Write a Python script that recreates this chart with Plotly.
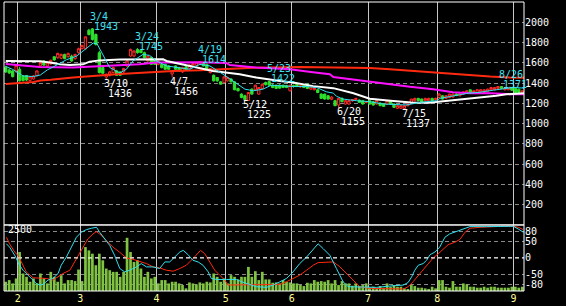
import plotly.graph_objects as go
from plotly.subplots import make_subplots

# ---------------- data (trading-day index 0..149, 2022-01-26 .. 2022-09-05) ----------------
opens = [1555, 1530, 1520, 1520, 1536, 1470, 1475, 1425, 1440, 1472,
         1570, 1618, 1570, 1590, 1660, 1650, 1645, 1683, 1660, 1667,
         1641, 1700, 1740, 1739, 1922, 1935, 1879, 1700, 1553, 1460,
         1477, 1504, 1520, 1510, 1510, 1569, 1667, 1667, 1732, 1725,
         1700, 1618, 1651, 1634, 1585, 1585, 1585, 1569, 1490, 1569,
         1553, 1510, 1560, 1546, 1559, 1575, 1585, 1602, 1585, 1504,
         1477, 1455, 1412, 1405, 1422, 1440, 1412, 1347, 1291, 1275,
         1228, 1340, 1334, 1291, 1347, 1405, 1415, 1379, 1379, 1379,
         1379, 1375, 1324, 1375, 1389, 1362, 1379, 1389, 1340, 1334,
         1334, 1291, 1291, 1275, 1240, 1226, 1183, 1249, 1193, 1193,
         1226, 1236, 1232, 1226, 1209, 1226, 1216, 1193, 1203, 1193,
         1193, 1226, 1193, 1151, 1151, 1150, 1177, 1209, 1226, 1249,
         1242, 1226, 1226, 1249, 1236, 1258, 1275, 1249, 1258, 1262,
         1291, 1275, 1291, 1301, 1334, 1307, 1307, 1314, 1307, 1314,
         1334, 1334, 1347, 1366, 1334, 1334, 1356, 1347, 1340, 1301]
highs = [1570, 1545, 1530, 1585, 1560, 1480, 1480, 1470, 1480, 1525,
         1610, 1625, 1605, 1630, 1665, 1700, 1690, 1690, 1700, 1680,
         1690, 1750, 1780, 1860, 1935, 1943, 1890, 1720, 1560, 1495,
         1520, 1560, 1530, 1515, 1550, 1625, 1740, 1725, 1745, 1735,
         1710, 1672, 1660, 1640, 1625, 1595, 1590, 1575, 1525, 1575,
         1560, 1560, 1570, 1585, 1600, 1610, 1614, 1608, 1590, 1550,
         1485, 1460, 1420, 1470, 1462, 1450, 1415, 1355, 1300, 1285,
         1312, 1348, 1385, 1360, 1395, 1415, 1422, 1390, 1385, 1388,
         1385, 1382, 1385, 1385, 1395, 1380, 1385, 1395, 1370, 1360,
         1340, 1300, 1295, 1280, 1270, 1235, 1255, 1258, 1232, 1232,
         1240, 1255, 1240, 1232, 1225, 1232, 1222, 1232, 1210, 1198,
         1232, 1232, 1198, 1180, 1180, 1182, 1200, 1245, 1255, 1255,
         1248, 1255, 1255, 1255, 1255, 1300, 1282, 1280, 1295, 1298,
         1300, 1305, 1318, 1330, 1340, 1330, 1338, 1340, 1340, 1345,
         1362, 1360, 1368, 1371, 1360, 1362, 1362, 1352, 1345, 1330]
lows = [1500, 1490, 1455, 1500, 1415, 1415, 1420, 1418, 1435, 1465,
        1565, 1570, 1560, 1580, 1620, 1640, 1635, 1635, 1650, 1610,
        1630, 1690, 1730, 1730, 1870, 1820, 1770, 1495, 1490, 1436,
        1465, 1495, 1470, 1470, 1500, 1560, 1660, 1655, 1690, 1695,
        1645, 1610, 1580, 1580, 1575, 1545, 1530, 1530, 1456, 1530,
        1515, 1500, 1525, 1540, 1550, 1565, 1575, 1565, 1530, 1495,
        1415, 1410, 1385, 1398, 1415, 1405, 1330, 1318, 1250, 1225,
        1228, 1285, 1325, 1285, 1340, 1375, 1375, 1350, 1340, 1345,
        1350, 1350, 1318, 1355, 1360, 1355, 1350, 1340, 1335, 1328,
        1300, 1245, 1238, 1238, 1232, 1172, 1155, 1210, 1188, 1188,
        1215, 1230, 1205, 1188, 1200, 1188, 1178, 1188, 1172, 1165,
        1188, 1188, 1158, 1145, 1145, 1137, 1170, 1205, 1220, 1220,
        1210, 1220, 1222, 1220, 1230, 1250, 1238, 1242, 1250, 1255,
        1270, 1268, 1285, 1295, 1300, 1300, 1300, 1310, 1300, 1310,
        1328, 1328, 1340, 1340, 1328, 1330, 1325, 1300, 1300, 1298]
closes = [1510, 1500, 1464, 1575, 1422, 1425, 1430, 1462, 1470, 1520,
          1602, 1578, 1600, 1625, 1628, 1693, 1683, 1641, 1693, 1618,
          1683, 1739, 1770, 1856, 1879, 1830, 1781, 1504, 1497, 1487,
          1510, 1553, 1477, 1477, 1543, 1618, 1732, 1716, 1700, 1700,
          1651, 1667, 1585, 1585, 1618, 1553, 1536, 1536, 1520, 1536,
          1520, 1553, 1530, 1579, 1592, 1605, 1610, 1569, 1536, 1543,
          1422, 1422, 1389, 1461, 1455, 1412, 1334, 1324, 1258, 1236,
          1307, 1291, 1379, 1356, 1389, 1385, 1379, 1356, 1347, 1350,
          1356, 1356, 1379, 1366, 1366, 1375, 1356, 1347, 1362, 1356,
          1307, 1249, 1242, 1242, 1262, 1177, 1249, 1216, 1226, 1226,
          1236, 1249, 1209, 1193, 1216, 1193, 1183, 1226, 1177, 1170,
          1226, 1193, 1160, 1177, 1177, 1177, 1195, 1242, 1249, 1226,
          1216, 1249, 1249, 1226, 1249, 1291, 1242, 1275, 1291, 1291,
          1278, 1301, 1314, 1324, 1307, 1324, 1334, 1334, 1334, 1340,
          1356, 1356, 1366, 1347, 1356, 1356, 1330, 1307, 1307, 1324]
volumes = [378, 446, 310, 513, 1593, 716, 580, 378, 513, 310,
           716, 513, 310, 783, 580, 378, 648, 310, 446, 446,
           405, 878, 405, 1796, 1661, 1526, 1053, 1526, 1256, 918,
           850, 783, 783, 580, 783, 2174, 1593, 1188, 1256, 918,
           580, 783, 513, 580, 310, 446, 446, 310, 378, 378,
           310, 243, 108, 351, 310, 270, 351, 310, 378, 351,
           716, 580, 378, 513, 310, 648, 580, 473, 580, 580,
           986, 580, 810, 446, 783, 473, 473, 338, 351, 310,
           446, 378, 351, 310, 310, 243, 203, 338, 310, 446,
           378, 405, 378, 446, 310, 446, 243, 405, 310, 310,
           216, 310, 203, 243, 310, 148, 175, 108, 202, 135,
           310, 175, 243, 175, 175, 108, 81, 243, 202, 135,
           135, 108, 81, 175, 108, 446, 446, 175, 135, 405,
           175, 175, 310, 270, 175, 175, 135, 135, 175, 135,
           175, 175, 135, 135, 135, 135, 175, 175, 135, 175]

# moving averages (trading-day index, price)
ma5_x = [0, 2, 5, 8, 10, 12, 14, 17.5, 20.4, 22.8, 25.2, 26.3, 28.1, 30, 32.9, 34.8, 36.7,
         39.6, 41.5, 43.5, 46.4, 49.3, 53.1, 56, 58.9, 62.7, 65.6, 69, 71.4, 74.2, 76.6, 79,
         82.9, 86.8, 89.7, 92.5, 94.5, 95.4, 97.3, 101.2, 105, 108.9, 112.7, 115.6, 119.4,
         124.3, 125.2, 128.1, 131, 133, 136.8, 140.7, 143.6, 146.5, 149.5]
ma5_y = [1565, 1535, 1470, 1465, 1480, 1530, 1565, 1630, 1665, 1730, 1795, 1790, 1667, 1553, 1500, 1536, 1618,
         1683, 1673, 1618, 1569, 1553, 1536, 1585, 1569, 1487, 1421, 1340, 1324, 1340, 1379, 1373,
         1366, 1366, 1356, 1314, 1301, 1270, 1242, 1226, 1216, 1193, 1184, 1184, 1209,
         1226, 1249, 1270, 1285, 1298, 1310, 1330, 1346, 1357, 1350]
ma25_x = [0, 5, 10, 12.7, 15.6, 18.5, 22.3, 24.2, 27.1, 32.9, 37.7, 45.4, 46.4, 50.2, 53.1, 56,
          59.8, 67.5, 72.3, 79.1, 82.9, 88.7, 94.5, 100.3, 103.5, 105, 111, 117, 122, 125,
          131, 136.7, 141.5, 144.4, 147.3, 149.5]
ma25_y = [1618, 1615, 1615, 1602, 1585, 1578, 1585, 1611, 1624, 1632, 1634, 1634, 1618, 1592, 1569, 1546,
          1520, 1487, 1454, 1421, 1405, 1370, 1350, 1300, 1262, 1245, 1226, 1209, 1205, 1216,
          1232, 1255, 1275, 1290, 1298, 1300]
ma75_x = [0, 4, 9.8, 19.4, 29, 38.6, 43.4, 56, 63.7, 64.6, 72.3, 82, 88, 93.5, 94.5, 100.2,
          105, 110.8, 116.6, 123.3, 129, 134, 140, 144.4, 149.5]
ma75_y = [1589, 1575, 1559, 1553, 1569, 1585, 1602, 1605, 1598, 1578, 1553, 1536, 1510, 1487, 1460, 1435,
          1410, 1388, 1363, 1340, 1310, 1300, 1300, 1291, 1290]
ma200_x = [0, 8, 10, 13, 19.4, 22, 29, 33, 38.7, 45, 48.3, 56, 62, 70, 85, 100, 105, 110.8,
           115, 119.5, 124.3, 130.5, 133.9, 139.7, 145.4, 149.5]
ma200_y = [1392, 1410, 1425, 1432, 1455, 1460, 1480, 1490, 1503, 1512, 1520, 1526, 1535, 1550, 1559, 1556,
           1550, 1536, 1526, 1510, 1497, 1487, 1475, 1464, 1455, 1452]

# RCI oscillators (lower panel)
rci_s_x = [0.2, 1.1, 2.6, 4, 5, 6.9, 8.8, 9.8, 10.8, 12.2, 13.6, 15.1, 16, 17.5, 18.9, 20.4, 21.8,
           23.3, 24.7, 26.2, 27.1, 28.5, 30, 31.4, 32.9, 34.3, 35.8, 37.7, 39.1, 40.6, 42.5, 44.4,
           45.9, 47.3, 48.7, 50.2, 51.2, 52.6, 54, 55.5, 56.9, 58.4, 59.3, 60.8, 63.7, 66.6, 68,
           69.4, 72.3, 75.2, 77.1, 79.1, 81, 82.9, 84.8, 86.8, 88.7, 90.1, 91.6, 93.5, 95.4, 97.3,
           98.8, 101.2, 105, 107, 110.8, 114.7, 116.1, 117.1, 118, 119, 120.4, 121.4, 122.4, 123.8,
           125.2, 126.7, 128.1, 130, 132, 133.9, 138.7, 142.6, 146.4, 147.8, 149.3]
rci_s_y = [43, 33, 8, -22, -37, -57, -77, -82, -80, -67, -62, -47, -22, 3, 33, 63, 78,
           86, 90, 93, 78, 58, 38, 8, -32, -42, -37, -27, -17, -27, -27, -32,
           -12, -12, 3, 18, 23, 10, -7, -12, -22, -42, -62, -65, -65, -65, -72,
           -77, -87, -89, -82, -72, -62, -42, -17, 3, 28, 43, 28, 8, -32, -72,
           -87, -87, -87, -89, -85, -82, -74, -57, -37, -22, -17, -7, 10, 18,
           33, 63, 73, 80, 88, 95, 95, 95, 96, 88, 78]
rci_l_x = [0.2, 1.1, 2.6, 3.5, 4.5, 5.9, 7.9, 9.8, 11.7, 13.6, 15.1, 16.5, 18.5, 20.4, 22.3, 23.7,
           25.2, 26.1, 27.1, 29, 30.9, 32.8, 34.8, 36.7, 38.6, 40.6, 42.5, 44.4, 46.3, 48.3, 50.2,
           52.1, 54, 56.2, 57.4, 58.9, 60.3, 61.7, 63.2, 64.1, 67.5, 72.3, 77.1, 79.1, 81, 82.9,
           84.8, 86.8, 88.7, 90.1, 92.5, 94.5, 96.4, 98.3, 100.2, 102.1, 105, 109.9, 114.7, 116.1,
           117.5, 119.5, 121.4, 123.3, 124.8, 126.2, 127.6, 129.6, 131, 132.5, 133.9, 136.8, 139.7,
           143.5, 146.4, 147.8, 149.3]
rci_l_y = [63, 43, 18, 8, -12, -42, -60, -62, -62, -67, -57, -47, -37, -2, 33, 58,
           73, 80, 73, 53, 33, 18, 0, -4, -10, -17, -27, -30, -37, -40, -32,
           -22, -2, 23, 13, -12, -37, -52, -67, -82, -82, -82, -82, -80, -72, -62,
           -52, -37, -22, -14, -12, -12, -27, -47, -67, -87, -92, -92, -94, -87,
           -72, -47, -22, 0, 13, 28, 40, 48, 56, 78, 90, 93, 95,
           96, 96, 93, 86]

# annotated highs / lows
mark_dates = ['3/4', '3/10', '3/24', '4/7', '4/19', '5/12', '5/23', '6/20', '7/15', '8/26']
mark_idx = [25, 29, 38, 48, 56, 69, 76, 96, 115, 143]
mark_vals = [1943, 1436, 1745, 1456, 1614, 1225, 1422, 1155, 1137, 1371]
mark_kind = ['H', 'L', 'H', 'L', 'H', 'L', 'H', 'L', 'L', 'H']

month_first_idx = [4, 22, 44, 64, 83, 105, 125, 147]
month_labels = ['2', '3', '4', '5', '6', '7', '8', '9']
price_ticks = [200, 400, 600, 800, 1000, 1200, 1400, 1600, 1800, 2000, 2200]
rci_ticks = [80, 50, 0, -50, -80]
volume_scale_label = 2500

# ---------------- figure ----------------
FONT = 'DejaVu Sans Mono'
lower_frac = 0.2285
fig = make_subplots(rows=2, cols=1, shared_xaxes=True, vertical_spacing=0,
                    row_heights=[1 - lower_frac, lower_frac],
                    specs=[[{}], [{"secondary_y": True}]])

days = list(range(len(opens)))
fig.add_trace(go.Candlestick(
    x=days, open=opens, high=highs, low=lows, close=closes,
    increasing=dict(line=dict(color='#ff2a2a', width=1), fillcolor='#000000'),
    decreasing=dict(line=dict(color='#2ee02e', width=1), fillcolor='#2ee02e'),
    whiskerwidth=0, showlegend=False, hoverinfo='skip'), row=1, col=1)

for xs, ys, col, w in [(ma200_x, ma200_y, '#ff2a10', 2),
                       (ma75_x, ma75_y, '#ff10ff', 2),
                       (ma25_x, ma25_y, '#ffffff', 2),
                       (ma5_x, ma5_y, '#30e0f0', 1)]:
    fig.add_trace(go.Scatter(x=xs, y=ys, mode='lines', line=dict(color=col, width=w),
                             showlegend=False, hoverinfo='skip'), row=1, col=1)

fig.add_trace(go.Bar(x=days, y=volumes, marker=dict(color='#80c342', line=dict(width=0)),
                     showlegend=False, hoverinfo='skip'), row=2, col=1, secondary_y=False)
fig.add_trace(go.Scatter(x=rci_l_x, y=rci_l_y, mode='lines', line=dict(color='#ff2a10', width=1),
                         showlegend=False, hoverinfo='skip'), row=2, col=1, secondary_y=True)
fig.add_trace(go.Scatter(x=rci_s_x, y=rci_s_y, mode='lines', line=dict(color='#30e0f0', width=1),
                         showlegend=False, hoverinfo='skip'), row=2, col=1, secondary_y=True)

month_pos = [i - 0.5 for i in month_first_idx]
xcommon = dict(domain=[0, 1], range=[-0.5, len(opens) - 0.5], tickvals=month_pos,
               ticktext=month_labels,
               showgrid=True, gridcolor='#c8c8c8', gridwidth=1, zeroline=False,
               showline=False, ticks='', rangeslider=dict(visible=False), fixedrange=True)
fig.update_xaxes(**xcommon)
fig.update_xaxes(showticklabels=False, row=1, col=1)
fig.update_xaxes(showticklabels=True, tickfont=dict(family=FONT, size=10, color='#ffff99'),
                 row=2, col=1)

fig.update_yaxes(range=[0, 2200], side='right', tickvals=price_ticks,
                 ticktext=[str(v) for v in price_ticks],
                 tickfont=dict(family=FONT, size=10, color='#ffffff'),
                 showgrid=True, gridcolor='#8a8a8a', griddash='4px,3px', gridwidth=1,
                 zeroline=False, ticks='', row=1, col=1)
fig.update_yaxes(range=[0, 2700], visible=False, showgrid=False, zeroline=False,
                 row=2, col=1, secondary_y=False)
fig.update_yaxes(range=[-100, 100], side='right', tickvals=rci_ticks,
                 ticktext=[str(v) for v in rci_ticks],
                 tickfont=dict(family=FONT, size=10, color='#ffffff'),
                 showgrid=True, gridcolor='#8a8a8a', griddash='4px,3px', gridwidth=1,
                 zeroline=False, ticks='', row=2, col=1, secondary_y=True)

# zero line of oscillator (white dashed) and panel frames
fig.add_shape(type='line', xref='x2 domain', yref='y3', x0=0, x1=1, y0=0, y1=0,
              line=dict(color='#ffffff', width=1, dash='4px,3px'))
fig.add_shape(type='rect', xref='x domain', yref='y domain', x0=0, x1=1, y0=0, y1=1,
              line=dict(color='#ffffff', width=1))
fig.add_shape(type='rect', xref='x2 domain', yref='y2 domain', x0=0, x1=1, y0=0, y1=1,
              line=dict(color='#ffffff', width=1))

# high / low labels
for d, i, v, k in zip(mark_dates, mark_idx, mark_vals, mark_kind):
    col = '#40e0f0' if k == 'H' else '#ffffff'
    dy_date, dy_val = (12, 2) if k == 'H' else (-4, -14)
    fig.add_annotation(x=i, y=v, xref='x', yref='y', text=d, showarrow=False,
                       xanchor='left', yanchor='middle', xshift=-3, yshift=dy_date,
                       borderpad=0, font=dict(family=FONT, size=10, color=col))
    fig.add_annotation(x=i, y=v, xref='x', yref='y', text=str(v), showarrow=False,
                       xanchor='left', yanchor='middle', xshift=1, yshift=dy_val,
                       borderpad=0, font=dict(family=FONT, size=10, color=col))

fig.add_annotation(x=0, y=volume_scale_label, xref='x2 domain', yref='y2',
                   text=str(volume_scale_label), showarrow=False, xanchor='left',
                   yanchor='middle', xshift=3, borderpad=0,
                   font=dict(family=FONT, size=10, color='#ffffff'))

fig.update_layout(width=566, height=306, margin=dict(l=4, r=42, t=2, b=13),
                  paper_bgcolor='#000000', plot_bgcolor='#000000',
                  bargap=0.22, boxgap=0.05, showlegend=False,
                  font=dict(family=FONT, size=10, color='#ffffff'))

fig.write_html("out.html")
